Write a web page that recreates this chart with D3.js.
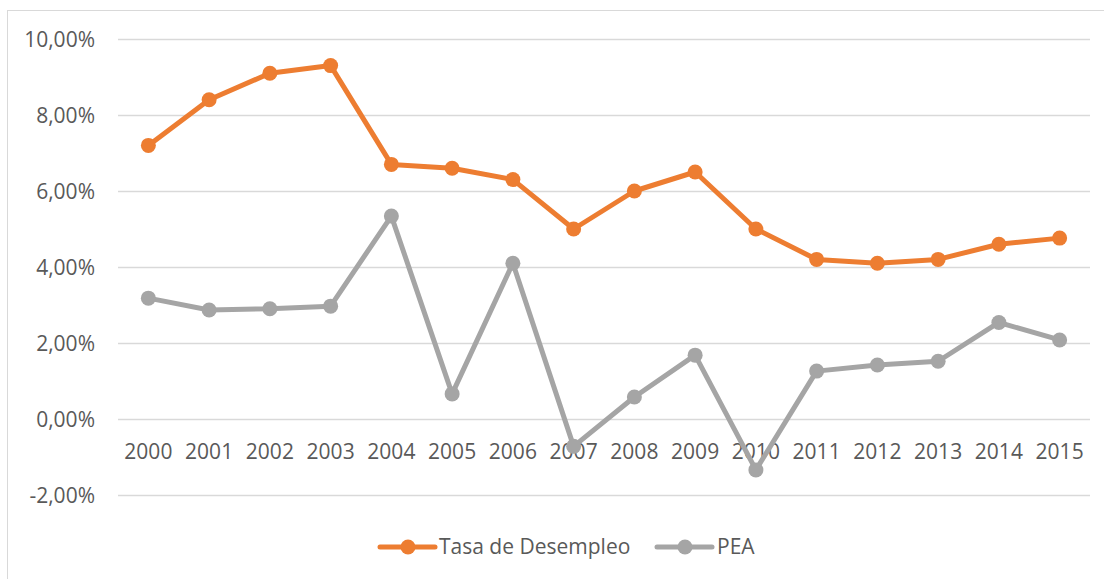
<!DOCTYPE html>
<html>
<head>
<meta charset="utf-8">
<script src="https://cdn.jsdelivr.net/npm/d3@7"></script>
<style>
body { margin: 0; background: #fff; }
svg { display: block; }
text { font-family: "Open Sans", "Liberation Sans", sans-serif; fill: #595959; }
</style>
</head>
<body>
<svg id="chart" width="1104" height="579"></svg>
<script>
const years = ["2000","2001","2002","2003","2004","2005","2006","2007","2008","2009","2010","2011","2012","2013","2014","2015"];
const desempleo = [7.2, 8.4, 9.1, 9.3, 6.7, 6.6, 6.3, 5.0, 6.0, 6.5, 5.0, 4.2, 4.1, 4.2, 4.6, 4.76];
const pea = [3.18, 2.87, 2.9, 2.97, 5.34, 0.66, 4.1, -0.72, 0.58, 1.68, -1.34, 1.26, 1.42, 1.52, 2.54, 2.08];
const yTicks = [-2, 0, 2, 4, 6, 8, 10];
const seriesNames = ["Tasa de Desempleo", "PEA"];
const colors = ["#ED7D31", "#A5A5A5"];

const svg = d3.select("#chart");

// chart border
svg.append("rect").attr("x", 7.5).attr("y", 10.5).attr("width", 1110).attr("height", 600)
  .attr("fill", "none").attr("stroke", "#d9d9d9").attr("stroke-width", 1);

const x = d3.scaleBand().domain(years).range([118, 1090]);
const y = d3.scaleLinear().domain([-2, 10]).range([495, 39]);

// gridlines
svg.append("g").selectAll("line").data(yTicks).join("line")
  .attr("x1", 118).attr("x2", 1090)
  .attr("y1", d => Math.round(y(d)) + 0.5).attr("y2", d => Math.round(y(d)) + 0.5)
  .attr("stroke", "#d9d9d9").attr("stroke-width", 1.3);

// y axis labels
const fmt = d => d3.format(".2f")(d).replace(".", ",").replace("\u2212", "-") + "%";
const yAxis = d3.axisLeft(y).tickValues(yTicks).tickSize(0).tickPadding(0).tickFormat(fmt);
const gy = svg.append("g").attr("transform", "translate(95,0)").call(yAxis);
gy.select(".domain").remove();
gy.selectAll("text").attr("font-size", 21).style("font-family", '"Open Sans", sans-serif').attr("fill", "#595959").attr("dy", "0.35em");

// x axis labels
const xAxis = d3.axisBottom(x).tickSize(0).tickPadding(0);
const gx = svg.append("g").attr("transform", "translate(0,445)").call(xAxis);
gx.select(".domain").remove();
gx.selectAll("text").attr("font-size", 21).style("font-family", '"Open Sans", sans-serif').attr("fill", "#595959").attr("dy", "0.65em");

const cx = d => x(d) + x.bandwidth() / 2;
const line = d3.line().x((d, i) => cx(years[i])).y(d => y(d));

[desempleo, pea].forEach((data, k) => {
  const g = svg.append("g");
  g.append("path").datum(data).attr("d", line).attr("fill", "none")
    .attr("stroke", colors[k]).attr("stroke-width", 5).attr("stroke-linejoin", "round").attr("stroke-linecap", "round");
  g.selectAll("circle").data(data).join("circle")
    .attr("cx", (d, i) => cx(years[i])).attr("cy", d => y(d)).attr("r", 7.5).attr("fill", colors[k]);
});

// legend
const legendItems = [{x: 380, tx: 439}, {x: 657, tx: 717}];
legendItems.forEach((it, k) => {
  const g = svg.append("g");
  g.append("line").attr("x1", it.x).attr("x2", it.x + 55).attr("y1", 547).attr("y2", 547)
    .attr("stroke", colors[k]).attr("stroke-width", 5).attr("stroke-linecap", "round");
  g.append("circle").attr("cx", it.x + 28).attr("cy", 547).attr("r", 7.5).attr("fill", colors[k]);
  g.append("text").attr("x", it.tx).attr("y", 547).attr("dy", "0.35em").attr("font-size", 21).text(seriesNames[k]);
});
</script>
</body>
</html>
